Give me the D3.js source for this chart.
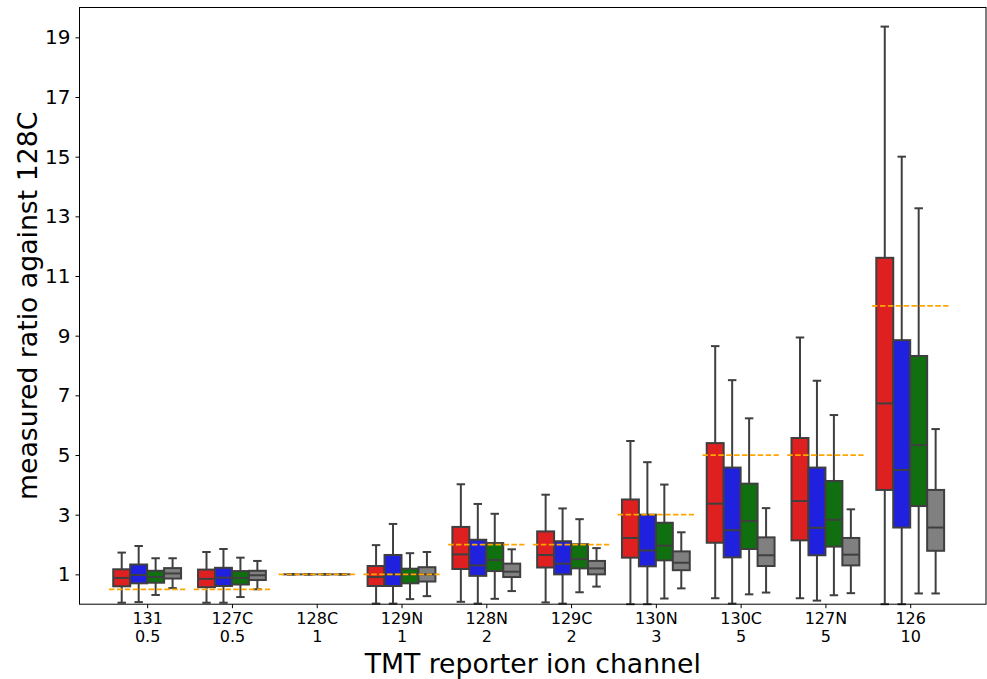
<!DOCTYPE html>
<html>
<head>
<meta charset="utf-8">
<script src="https://cdn.jsdelivr.net/npm/d3@7"></script>
<style>
  html, body { margin: 0; padding: 0; background: #fff; }
  svg { display: block; font-family: "DejaVu Sans", sans-serif; }
</style>
</head>
<body>
<svg id="chart" width="987" height="679"></svg>
<script>
// ---- data ----
const categories = ["131", "127C", "128C", "129N", "128N", "129C", "130N", "130C", "127N", "126"];
const expectedRatios = [0.5, 0.5, 1, 1, 2, 2, 3, 5, 5, 10];
const yTicks = [1, 3, 5, 7, 9, 11, 13, 15, 17, 19];
const seriesNames = ["red", "blue", "green", "gray"];
const seriesColors = ["#df2020", "#2020df", "#107010", "#808080"];

// five-number summaries: [whisker low, q1, median, q3, whisker high]
const redStats = [
  [0.05, 0.60, 0.88, 1.17, 1.73],
  [0.05, 0.57, 0.85, 1.16, 1.75],
  [1, 1, 1, 1, 1],
  [0.02, 0.61, 0.91, 1.28, 1.98],
  [0.08, 1.18, 1.67, 2.59, 4.02],
  [0.06, 1.23, 1.65, 2.44, 3.67],
  [0.00, 1.56, 2.22, 3.51, 5.47],
  [0.20, 2.06, 3.37, 5.40, 8.65],
  [0.20, 2.14, 3.46, 5.57, 8.94],
  [0.00, 3.83, 6.73, 11.61, 19.36]
];
const blueStats = [
  [0.07, 0.70, 0.98, 1.33, 1.95],
  [0.05, 0.61, 0.89, 1.22, 1.85],
  [1, 1, 1, 1, 1],
  [0.02, 0.61, 1.00, 1.65, 2.69],
  [0.02, 0.95, 1.30, 2.16, 3.36],
  [0.02, 1.00, 1.36, 2.11, 3.21],
  [0.00, 1.27, 1.80, 3.00, 4.76],
  [0.02, 1.57, 2.48, 4.58, 7.51],
  [0.12, 1.64, 2.56, 4.58, 7.49],
  [0.00, 2.57, 4.50, 8.85, 15.00]
];
const greenStats = [
  [0.31, 0.72, 0.91, 1.12, 1.54],
  [0.24, 0.66, 0.88, 1.11, 1.56],
  [1, 1, 1, 1, 1],
  [0.17, 0.70, 1.00, 1.19, 1.71],
  [0.18, 1.11, 1.48, 2.05, 3.03],
  [0.40, 1.20, 1.51, 2.01, 2.85],
  [0.19, 1.47, 1.96, 2.73, 4.01],
  [0.33, 1.85, 2.79, 4.04, 6.23],
  [0.30, 1.93, 2.83, 4.13, 6.34],
  [0.36, 3.29, 5.33, 8.32, 13.27]
];
const grayStats = [
  [0.54, 0.86, 1.03, 1.21, 1.54],
  [0.50, 0.81, 0.97, 1.12, 1.45],
  [1, 1, 1, 1, 1],
  [0.27, 0.76, 1.00, 1.24, 1.75],
  [0.44, 0.91, 1.09, 1.36, 1.84],
  [0.59, 1.00, 1.20, 1.45, 1.88],
  [0.53, 1.14, 1.39, 1.77, 2.41],
  [0.39, 1.28, 1.64, 2.24, 3.22],
  [0.37, 1.30, 1.66, 2.22, 3.18],
  [0.36, 1.79, 2.57, 3.83, 5.87]
];
const allStats = [redStats, blueStats, greenStats, grayStats];

// ---- layout ----
const svg = d3.select("#chart");
const mLeft = 79.5, mRight = 986, mTop = 7.5, mBottom = 604.2;
const edge = "#3f3f3f";

const x = d3.scaleLinear().domain([-0.798, 9.894]).range([mLeft, mRight]);
const y = d3.scaleLinear().domain([0, 20]).range([mBottom, mTop]);
const unit = x(1) - x(0);
const boxW = 0.2 * unit;

const plot = svg.append("g");

// boxes
allStats.forEach((stats, s) => {
  const g = plot.append("g").attr("class", "series-" + seriesNames[s]);
  stats.forEach((d, i) => {
    const cx = x(i - 0.3 + 0.2 * s);
    const [lo, q1, med, q3, hi] = d;
    g.append("line").attr("x1", cx).attr("x2", cx).attr("y1", y(lo)).attr("y2", y(q1))
      .attr("stroke", edge).attr("stroke-width", 2);
    g.append("line").attr("x1", cx).attr("x2", cx).attr("y1", y(q3)).attr("y2", y(hi))
      .attr("stroke", edge).attr("stroke-width", 2);
    [lo, hi].forEach(v => {
      g.append("line").attr("x1", cx - boxW / 4).attr("x2", cx + boxW / 4)
        .attr("y1", y(v)).attr("y2", y(v)).attr("stroke", edge).attr("stroke-width", 2);
    });
    g.append("rect").attr("x", cx - boxW / 2).attr("width", boxW)
      .attr("y", y(q3)).attr("height", Math.max(0, y(q1) - y(q3)))
      .attr("fill", seriesColors[s]).attr("stroke", edge).attr("stroke-width", 2);
    g.append("line").attr("x1", cx - boxW / 2).attr("x2", cx + boxW / 2)
      .attr("y1", y(med)).attr("y2", y(med)).attr("stroke", edge).attr("stroke-width", 2);
  });
});

// expected ratio dashed lines
plot.append("g").selectAll("line").data(expectedRatios).join("line")
  .attr("x1", (d, i) => x(i - 0.45)).attr("x2", (d, i) => x(i + 0.45))
  .attr("y1", d => y(d)).attr("y2", d => y(d))
  .attr("stroke", "#FFA500").attr("stroke-width", 1.8)
  .attr("stroke-dasharray", "5.5,2.4");

// frame
svg.append("rect").attr("x", mLeft).attr("y", mTop).attr("width", mRight - mLeft).attr("height", mBottom - mTop)
  .attr("fill", "none").attr("stroke", "#000").attr("stroke-width", 1);

// y axis
const yAxis = svg.append("g").attr("transform", `translate(${mLeft},0)`)
  .call(d3.axisLeft(y).tickValues(yTicks).tickSize(4).tickPadding(5).tickFormat(d3.format("d")));
yAxis.select(".domain").remove();
yAxis.selectAll("text").attr("font-size", 20).attr("fill", "#000").attr("font-family", "DejaVu Sans");
yAxis.selectAll("line").attr("stroke", "#000");

// x axis
const xAxis = svg.append("g").attr("transform", `translate(0,${mBottom})`)
  .call(d3.axisBottom(x).tickValues(d3.range(categories.length)).tickSize(4).tickPadding(6).tickFormat(""));
xAxis.select(".domain").remove();
xAxis.selectAll("line").attr("stroke", "#000");
xAxis.selectAll(".tick").each(function (d) {
  const t = d3.select(this).append("text").attr("fill", "#000").attr("font-size", 16)
    .attr("text-anchor", "middle").attr("font-family", "DejaVu Sans");
  t.append("tspan").attr("x", 0).attr("y", 20).text(categories[d]);
  t.append("tspan").attr("x", 0).attr("y", 38).text(String(expectedRatios[d]));
});

// axis labels
svg.append("text").attr("x", (mLeft + mRight) / 2).attr("y", 673).attr("text-anchor", "middle")
  .attr("font-size", 26.7).attr("fill", "#000").text("TMT reporter ion channel");
svg.append("text").attr("transform", `translate(37,${(mTop + mBottom) / 2}) rotate(-90)`)
  .attr("text-anchor", "middle").attr("font-size", 26.7).attr("fill", "#000")
  .text("measured ratio against 128C");
</script>
</body>
</html>
